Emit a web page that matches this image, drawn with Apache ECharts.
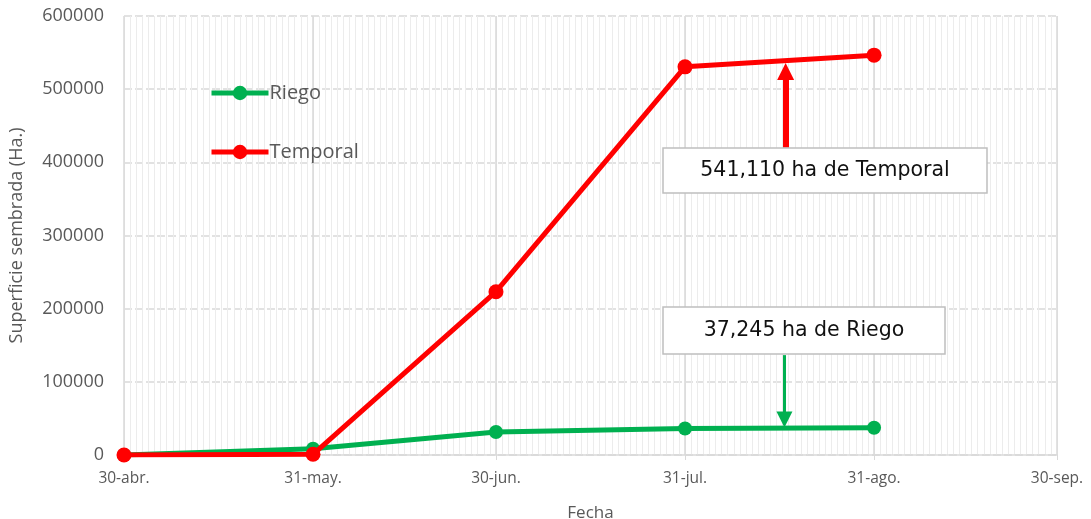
<!DOCTYPE html>
<html><head><meta charset="utf-8">
<script src="https://cdn.jsdelivr.net/npm/echarts@6/dist/echarts.min.js"></script>
<style>html,body{margin:0;padding:0;background:#fff}#c{width:1091px;height:519px}</style>
</head><body><div id="c"></div>
<script>
// Days counted from 30-abr (day 0)
const dayLabels = ['30-abr.', '31-may.', '30-jun.', '31-jul.', '31-ago.', '30-sep.'];
const dayTicks = [0, 31, 61, 92, 123, 153];
const pointDays = [0, 31, 61, 92, 123];
const riego = [0, 8500, 31500, 36300, 37245];
const temporal = [0, 1000, 223200, 530500, 546500];
const riegoNote = '37,245 ha de Riego';
const temporalNote = '541,110 ha de Temporal';

const totalDays = 153;
const catDays = [];
for (let i = 0; i <= totalDays; i++) catDays.push(String(i));
const isMajor = (i) => dayTicks.indexOf(i) >= 0;
const pair = (days, vals) => days.map((d, i) => [d, vals[i]]);

const chart = echarts.init(document.getElementById('c'));
const txt = '#595959';
chart.setOption({
  animation: false,
  textStyle: { fontFamily: 'Open Sans' },
  grid: { left: 124, right: 34, top: 16, bottom: 64, containLabel: false, outerBoundsMode: 'none' },
  legend: {
    left: 209, top: 83, padding: 0, orient: 'vertical', itemWidth: 57, itemHeight: 18, itemGap: 39,
    lineStyle: { width: 5 },
    textStyle: { fontSize: 20, color: txt, fontFamily: 'Open Sans', padding: [0, 0, 0, -4] },
    data: ['Riego', 'Temporal']
  },
  xAxis: [
    {
      type: 'value', min: 0, max: totalDays, interval: 1,
      axisLabel: { show: false }, axisTick: { show: false }, axisLine: { show: false },
      splitLine: { show: true, lineStyle: { color: '#ececec', width: 1 } }
    },
    {
      type: 'category', data: catDays, boundaryGap: false, position: 'bottom', z: 1,
      name: 'Fecha', nameLocation: 'middle', nameGap: 50,
      nameTextStyle: { fontSize: 17, color: txt, fontFamily: 'Open Sans' },
      axisLine: { show: true, lineStyle: { color: '#d9d9d9', width: 1.5 } },
      axisTick: { show: true, interval: (i) => isMajor(i), length: 5, lineStyle: { color: '#d9d9d9' } },
      axisLabel: {
        interval: (i) => isMajor(i), margin: 16, fontSize: 15.5, color: txt, fontFamily: 'Open Sans',
        formatter: (v, i) => { const k = dayTicks.indexOf(Number(v)); return k >= 0 ? dayLabels[k] : ''; }
      },
      splitLine: { show: true, interval: (i) => isMajor(i), lineStyle: { color: '#d9d9d9', width: 1.5 } }
    }
  ],
  yAxis: {
    type: 'value', min: 0, max: 600000, interval: 100000,
    name: 'Superficie sembrada (Ha.)', nameLocation: 'middle', nameGap: 98, nameRotate: 90,
    nameTextStyle: { fontSize: 18, color: txt, fontFamily: 'Open Sans' },
    axisLine: { show: false }, axisTick: { show: false },
    axisLabel: { fontSize: 18, color: txt, margin: 20, fontFamily: 'Open Sans', formatter: (v) => String(v) },
    splitLine: { show: true, lineStyle: { color: '#d9d9d9', width: 1.5, type: [8, 3] } }
  },
  series: [
    {
      name: 'Riego', type: 'line', xAxisIndex: 0, data: pair(pointDays, riego),
      symbol: 'circle', symbolSize: 14, z: 3,
      lineStyle: { color: '#00B050', width: 5 }, itemStyle: { color: '#00B050' },
      markLine: {
        silent: true, symbol: ['none', 'triangle'], symbolSize: 16, label: { show: false },
        lineStyle: { color: '#00B050', width: 3, type: 'solid' },
        data: [[{ coord: [108.3, 136500] }, { coord: [108.3, 48500] }]]
      }
    },
    {
      name: 'Temporal', type: 'line', xAxisIndex: 0, data: pair(pointDays, temporal),
      symbol: 'circle', symbolSize: 15, z: 4,
      lineStyle: { color: '#FF0000', width: 5 }, itemStyle: { color: '#FF0000' },
      markLine: {
        silent: true, symbol: ['none', 'triangle'], symbolSize: 17, label: { show: false },
        lineStyle: { color: '#FF0000', width: 6, type: 'solid' },
        data: [[{ coord: [108.5, 420000] }, { coord: [108.5, 524000] }]]
      }
    }
  ],
  graphic: [
    { type: 'rect', z: 100, shape: { x: 663, y: 148, width: 324, height: 45 },
      style: { fill: '#fff', stroke: '#bfbfbf', lineWidth: 1.5 } },
    { type: 'text', z: 101, x: 825, y: 171,
      style: { text: temporalNote, fill: '#111', font: '20.5px "DejaVu Sans"', textAlign: 'center', textVerticalAlign: 'middle' } },
    { type: 'rect', z: 100, shape: { x: 663, y: 307, width: 282, height: 47 },
      style: { fill: '#fff', stroke: '#bfbfbf', lineWidth: 1.5 } },
    { type: 'text', z: 101, x: 804, y: 331,
      style: { text: riegoNote, fill: '#111', font: '20.5px "DejaVu Sans"', textAlign: 'center', textVerticalAlign: 'middle' } }
  ]
});
</script></body></html>
